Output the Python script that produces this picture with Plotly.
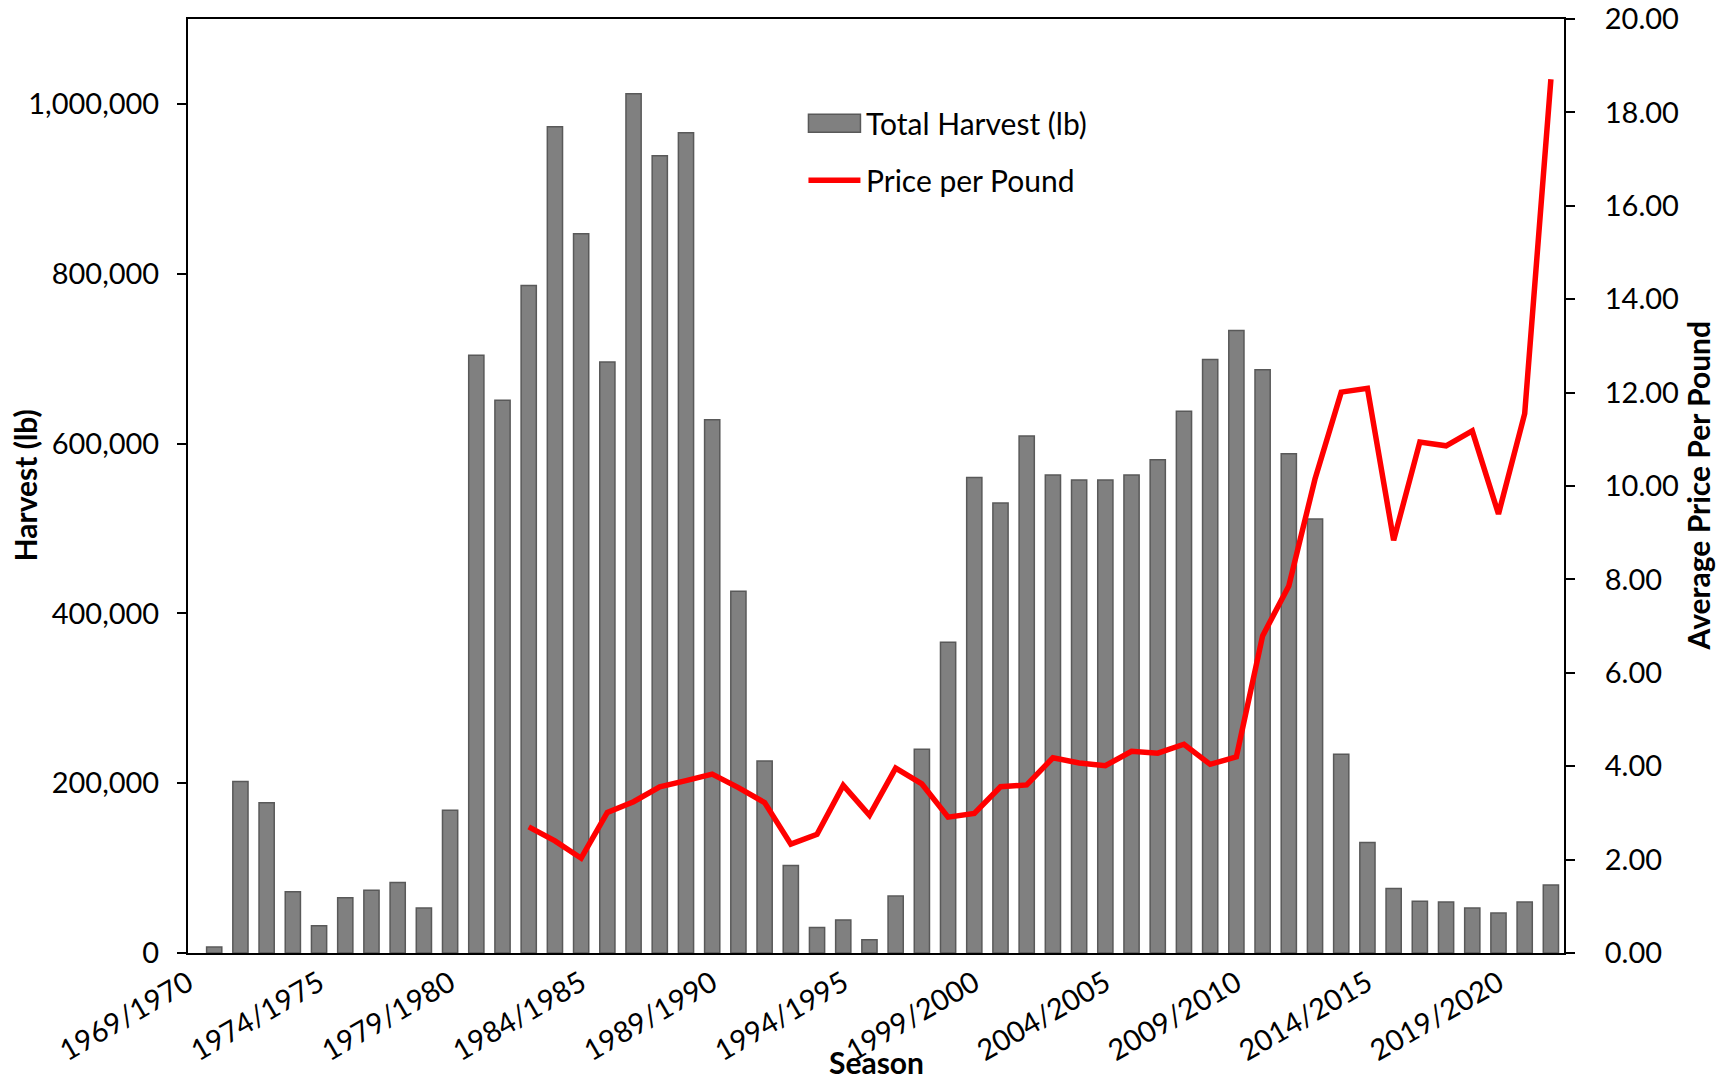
# Harvest and price per pound by season (bars + line on a second axis)
import plotly.graph_objects as go

# Seasons from 1969/1970 to 2021/2022
seasons = [f"{y}/{y + 1}" for y in range(1969, 2022)]

# Total harvest (lb); no bar for the first season
harvest_lb = [None, 7000, 202000, 177000, 72000, 32000, 65000, 74000, 83000, 53000,
              168000, 704000, 651000, 786000, 973000, 847000, 696000, 1012000, 939000, 966000,
              628000, 426000, 226000, 103000, 30000, 39000, 15500, 67000, 240000, 366000,
              560000, 530000, 609000, 563000, 557000, 557000, 563000, 581000, 638000, 699000,
              733000, 687000, 588000, 511000, 234000, 130000, 76000, 61000, 60000, 53000,
              47000, 60000, 80000]

# Average price per pound; starts in 1982/1983
price_per_lb = [None] * 13 + [2.70, 2.40, 2.03, 3.01, 3.24, 3.56, 3.69, 3.83, 3.54, 3.22,
                              2.33, 2.54, 3.59, 2.95, 3.96, 3.62, 2.91, 2.99, 3.56, 3.60,
                              4.18, 4.07, 4.01, 4.32, 4.28, 4.47, 4.04, 4.20, 6.79, 7.86,
                              10.15, 12.01, 12.09, 8.84, 10.94, 10.86, 11.18, 9.40, 11.55, 18.71]

label_seasons = seasons[::5]

W, H = 1729, 1079
# plot area in window pixels
PX0, PX1, PY0, PY1 = 187.5, 1563.6, 18.7, 952.7
L, T, R, B = PX0, PY0, W - PX1, H - PY1
pw, ph = PX1 - PX0, PY1 - PY0
FONT = "Lato"

def px_x(v):
    return (v - PX0) / pw

def px_y(v):
    return (PY1 - v) / ph

fig = go.Figure()

fig.add_trace(go.Bar(x=seasons, y=harvest_lb, name="Total Harvest (lb)",
                     marker=dict(color="#808080", line=dict(color="#595959", width=1.5)),
                     showlegend=False))
fig.add_trace(go.Scatter(x=seasons, y=price_per_lb, name="Price per Pound", mode="lines",
                         line=dict(color="#FF0000", width=5.5), yaxis="y2",
                         showlegend=False))

axis_common = dict(showline=True, linecolor="black", linewidth=2, showgrid=False,
                   zeroline=False, tickcolor="black", tickwidth=2, automargin=False,
                   ticklabeloverflow="allow",
                   tickfont=dict(family=FONT, size=29, color="black"))

fig.update_layout(
    width=W, height=H,
    margin=dict(l=L, r=R, t=T, b=B),
    plot_bgcolor="white", paper_bgcolor="white",
    bargap=0.42,
    xaxis=dict(type="category", range=[0, 52.5], tickmode="array", tickvals=label_seasons,
               ticktext=label_seasons, ticks="", tickangle=-30, mirror=True,
               **axis_common),
    # second x axis only for the tick marks every two seasons
    xaxis3=dict(overlaying="x", anchor="y", range=[0, 52.5], tick0=0, dtick=2,
                ticks="outside", ticklen=10, showticklabels=False, showline=False,
                showgrid=False, zeroline=False, tickcolor="black", tickwidth=2,
                automargin=False),
    yaxis=dict(range=[0, 1100000], dtick=200000, tickformat=",", ticks="outside",
               ticklen=9, ticklabelstandoff=12, **axis_common),
    yaxis2=dict(range=[0, 20], dtick=2, tickformat=".2f", ticks="outside", ticklen=9,
                ticklabelstandoff=24, overlaying="y", side="right", **axis_common),
)

# axis titles
title_font = dict(family=FONT, size=30, color="black", weight="bold")
fig.add_annotation(text="Harvest (lb)", xref="paper", yref="paper", x=px_x(24), y=0.5,
                   xanchor="center", yanchor="middle", textangle=-90, showarrow=False,
                   font=title_font)
fig.add_annotation(text="Average Price Per Pound", xref="paper", yref="paper",
                   x=px_x(1698), y=0.5, xanchor="center", yanchor="middle", textangle=-90,
                   showarrow=False, font=title_font)
fig.add_annotation(text="Season", xref="paper", yref="paper", x=0.5, y=px_y(1062),
                   xanchor="center", yanchor="middle", showarrow=False, font=title_font)

# legend drawn by hand to match the wide symbols
fig.add_shape(type="rect", xref="paper", yref="paper", x0=px_x(808), x1=px_x(860),
              y0=px_y(132), y1=px_y(114), fillcolor="#808080",
              line=dict(color="#595959", width=1.5))
fig.add_shape(type="line", xref="paper", yref="paper", x0=px_x(808), x1=px_x(860),
              y0=px_y(180), y1=px_y(180), line=dict(color="#FF0000", width=5.5))
legend_font = dict(family=FONT, size=30, color="black")
fig.add_annotation(text="Total Harvest (lb)", xref="paper", yref="paper", x=px_x(864),
                   y=px_y(123), xanchor="left", yanchor="middle", showarrow=False,
                   font=legend_font)
fig.add_annotation(text="Price per Pound", xref="paper", yref="paper", x=px_x(864),
                   y=px_y(180), xanchor="left", yanchor="middle", showarrow=False,
                   font=legend_font)

# drop the default page margin so the figure fills the window exactly
fig.write_html("out.html", config={"displayModeBar": False},
               post_script="document.body.style.margin='0';")
